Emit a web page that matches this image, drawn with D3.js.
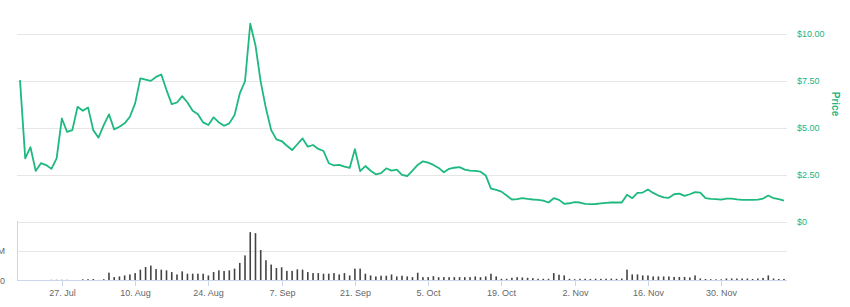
<!DOCTYPE html>
<html>
<head>
<meta charset="utf-8">
<script src="https://cdn.jsdelivr.net/npm/d3@7"></script>
<style>
  body { margin: 0; background: #fff; }
  svg { display: block; font-family: "Liberation Sans", Arial, sans-serif; }
  .grid line { stroke: #e6e6e6; stroke-width: 1; }
  .x-label { fill: #666; font-size: 9px; }
  .price-label { fill: #23b37f; font-size: 9px; }
  .vol-label { fill: #666; font-size: 9px; }
</style>
</head>
<body>
<div id="chart"></div>
<script>
// First day of the series; one price and one volume value per day after it.
const startDay = "2020-07-19";

// Daily closing price (USD).
const prices = [
  7.52, 3.36, 3.95, 2.69, 3.10, 3.00, 2.80, 3.36, 5.48, 4.77,
  4.86, 6.10, 5.89, 6.07, 4.86, 4.46, 5.13, 5.70, 4.90, 5.04,
  5.22, 5.57, 6.28, 7.61, 7.55, 7.48, 7.69, 7.82, 6.99, 6.24,
  6.33, 6.67, 6.33, 5.89, 5.70, 5.27, 5.13, 5.54, 5.27, 5.09,
  5.22, 5.66, 6.81, 7.46, 10.52, 9.37, 7.43, 6.02, 4.86, 4.37,
  4.28, 4.03, 3.80, 4.11, 4.42, 3.98, 4.07, 3.86, 3.75, 3.10,
  2.98, 3.01, 2.92, 2.85, 3.85, 2.68, 2.95, 2.70, 2.51, 2.57,
  2.83, 2.71, 2.76, 2.48, 2.42, 2.71, 3.01, 3.20, 3.13, 3.01,
  2.85, 2.62, 2.80, 2.86, 2.89, 2.76, 2.71, 2.69, 2.65, 2.45,
  1.75, 1.68, 1.59, 1.38, 1.17, 1.19, 1.24, 1.20, 1.17, 1.15,
  1.11, 1.01, 1.24, 1.15, 0.94, 0.97, 1.03, 1.01, 0.94, 0.92,
  0.93, 0.96, 0.99, 1.01, 1.01, 1.01, 1.42, 1.24, 1.52, 1.54,
  1.70, 1.52, 1.38, 1.28, 1.26, 1.45, 1.48, 1.36, 1.45, 1.56,
  1.54, 1.24, 1.20, 1.19, 1.16, 1.22, 1.22, 1.18, 1.15, 1.15,
  1.15, 1.16, 1.22, 1.38, 1.24, 1.19, 1.11
];

// Daily traded volume (millions USD).
const volumes = [
  0, 0, 0, 0, 0, 0, 1.2, 1.2, 1.2, 1.2,
  0, 0, 2.0, 2.2, 2.5, 1.0, 2.2, 13.3, 5.7, 6.9,
  8.6, 10.3, 12.6, 18.4, 22.9, 25.3, 19.4, 18.4, 17.2, 14.3,
  10.3, 15.5, 11.5, 11.5, 11.5, 11.5, 8.6, 14.3, 17.2, 16.0,
  17.2, 20.1, 29.8, 42.5, 82.0, 80.3, 51.6, 34.4, 27.0, 21.2,
  22.4, 16.3, 16.3, 18.9, 18.4, 14.3, 12.6, 12.6, 11.5, 11.5,
  12.6, 10.3, 12.6, 8.6, 20.1, 20.1, 11.5, 8.6, 6.9, 8.1,
  8.1, 10.3, 6.9, 8.1, 6.9, 5.7, 13.2, 5.7, 5.7, 7.4,
  5.7, 5.7, 5.7, 5.7, 5.7, 5.7, 5.7, 6.9, 5.7, 6.9,
  11.5, 6.9, 2.9, 2.9, 4.6, 5.7, 5.2, 4.6, 4.0, 2.9,
  2.9, 2.9, 12.6, 9.8, 8.6, 2.9, 2.2, 2.9, 2.9, 2.6,
  3.0, 2.8, 3.0, 3.2, 2.8, 3.4, 18.4, 10.3, 10.3, 8.6,
  8.6, 6.9, 6.9, 6.9, 6.9, 6.0, 6.0, 6.0, 5.2, 8.6,
  3.4, 2.6, 2.2, 2.0, 2.0, 3.4, 3.4, 3.4, 3.4, 3.4,
  2.6, 3.4, 4.3, 8.6, 3.4, 2.6, 2.6
];

// Axis ticks
const xTickDates = ["2020-07-27", "2020-08-10", "2020-08-24", "2020-09-07", "2020-09-21",
                    "2020-10-05", "2020-10-19", "2020-11-02", "2020-11-16", "2020-11-30"];
const priceTicks = [0, 2.5, 5, 7.5, 10];
const priceTickLabels = ["$0", "$2.50", "$5.00", "$7.50", "$10.00"];
const volumeTicks = [0, 50];
const volumeTickLabels = ["0", "50M"];

const width = 850;
const height = 307;
const plotLeft = 17;
const plotRight = 787;

const parseDay = d3.timeParse("%Y-%m-%d");
const start = parseDay(startDay);
const data = prices.map((p, i) => ({
    date: d3.timeDay.offset(start, i),
    price: p,
    volume: volumes[i]
}));

const svg = d3.select("#chart")
    .append("svg")
    .attr("width", width)
    .attr("height", height);

const x = d3.scaleTime()
    .domain(d3.extent(data, d => d.date))
    .range([20, 784]);

const yPrice = d3.scaleLinear()
    .domain([0, 10])
    .range([221.5, 33.5]);

const yVol = d3.scaleLinear()
    .domain([0, 100])
    .range([280.5, 221.5]);

// Price grid lines
svg.append("g")
    .attr("class", "grid")
    .selectAll("line")
    .data(priceTicks)
    .join("line")
    .attr("x1", plotLeft)
    .attr("x2", plotRight)
    .attr("y1", d => Math.round(yPrice(d)) + 0.5)
    .attr("y2", d => Math.round(yPrice(d)) + 0.5);

// Volume grid line (50M)
svg.append("line")
    .attr("x1", plotLeft)
    .attr("x2", plotRight)
    .attr("y1", Math.round(yVol(50)) + 0.5)
    .attr("y2", Math.round(yVol(50)) + 0.5)
    .attr("stroke", "#e6e6e6");

// Price labels on the right
svg.append("g")
    .selectAll("text")
    .data(priceTicks)
    .join("text")
    .attr("class", "price-label")
    .attr("x", 797)
    .attr("y", d => yPrice(d))
    .attr("dy", "0.35em")
    .text((d, i) => priceTickLabels[i]);

// Axis title
svg.append("text")
    .attr("transform", "translate(832,104) rotate(90)")
    .attr("text-anchor", "middle")
    .attr("fill", "#23b37f")
    .attr("font-size", "10px")
    .attr("font-weight", "bold")
    .text("Price");

// Volume pane frame: left border and bottom axis line
svg.append("line")
    .attr("x1", plotLeft + 0.5).attr("x2", plotLeft + 0.5)
    .attr("y1", 221).attr("y2", 281)
    .attr("stroke", "#ccd6eb");
svg.append("line")
    .attr("x1", plotLeft).attr("x2", plotRight)
    .attr("y1", 280.5).attr("y2", 280.5)
    .attr("stroke", "#ccd6eb");

// Volume labels, clipped at the left edge like the original
svg.append("g")
    .selectAll("text")
    .data(volumeTicks)
    .join("text")
    .attr("class", "vol-label")
    .attr("x", 5)
    .attr("y", d => yVol(d))
    .attr("dy", "0.35em")
    .attr("text-anchor", "end")
    .text((d, i) => volumeTickLabels[i]);

// Volume bars
svg.append("g")
    .selectAll("rect")
    .data(data.filter(d => d.volume > 0))
    .join("rect")
    .attr("x", d => x(d.date) - 0.8)
    .attr("width", 1.6)
    .attr("y", d => yVol(d.volume))
    .attr("height", d => yVol(0) - 0.5 - yVol(d.volume))
    .attr("fill", "#444");

// X axis ticks and labels
const fmt = d3.timeFormat("%-d. %b");
const xt = svg.append("g");
xTickDates.map(parseDay).forEach(t => {
    const px = Math.round(x(t)) + 0.5;
    xt.append("line")
        .attr("x1", px).attr("x2", px)
        .attr("y1", 281).attr("y2", 286)
        .attr("stroke", "#ccd6eb");
    xt.append("text")
        .attr("class", "x-label")
        .attr("x", px)
        .attr("y", 296)
        .attr("text-anchor", "middle")
        .text(fmt(t));
});

// Price line
const line = d3.line()
    .x(d => x(d.date))
    .y(d => yPrice(d.price));

svg.append("path")
    .datum(data)
    .attr("fill", "none")
    .attr("stroke", "#1db97f")
    .attr("stroke-width", 1.8)
    .attr("stroke-linejoin", "round")
    .attr("d", line);
</script>
</body>
</html>
